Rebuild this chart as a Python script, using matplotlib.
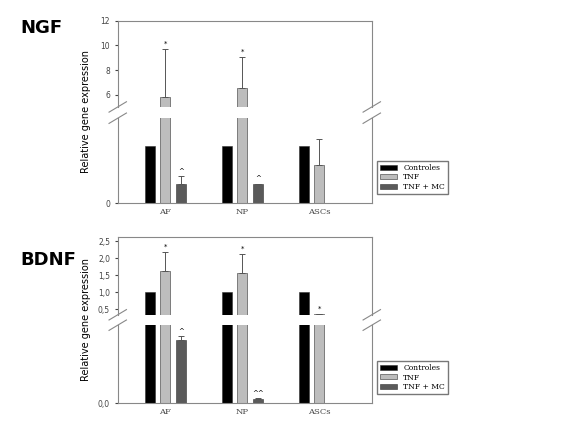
import matplotlib
matplotlib.use("Agg")
import matplotlib.pyplot as plt
import numpy as np

groups = ["AF", "NP", "ASCs"]
series = ["Controles", "TNF", "TNF + MC"]
colors = ["#000000", "#bdbdbd", "#5a5a5a"]

ngf_vals = [[1, 1, 1], [5.8, 6.5, 0.67], [0.33, 0.34, np.nan]]
ngf_err = [[0, 0, 0], [3.9, 2.55, 0.47], [0.14, 0.0, 0]]
ngf_marks = [["", "", ""], ["*", "*", ""], ["^", "^", ""]]

bdnf_vals = [[1, 1, 1], [1.62, 1.56, 0.36], [0.081, 0.005, np.nan]]
bdnf_err = [[0, 0, 0], [0.55, 0.57, 0.0], [0.005, 0.001, 0]]
bdnf_marks = [["", "", ""], ["*", "*", "*"], ["^", "^^", ""]]

fig = plt.figure(figsize=(5.8, 4.33), dpi=100)
x = np.arange(3)
offs = [-0.2, 0.0, 0.2]
W = 0.13
xl = (-0.62, 2.68)

def panel(rect_up, rect_lo, vals, errs, marks, up_lim, lo_lim, up_ticks, up_lbls, lo_ticks, lo_lbls, title, ty):
    au = fig.add_axes(rect_up)
    al = fig.add_axes(rect_lo)
    for ax, lim in ((au, up_lim), (al, lo_lim)):
        for i in range(3):
            v = np.array(vals[i], float)
            e = np.array(errs[i], float)
            ax.bar(x + offs[i], v, W, color=colors[i], edgecolor="#333333", linewidth=0.4,
                   yerr=[np.zeros(3), e], error_kw=dict(ecolor="#555555", elinewidth=0.7, capsize=2, capthick=0.7),
                   label=series[i])
        ax.set_xlim(*xl)
        ax.set_ylim(*lim)
        for s in ax.spines.values():
            s.set_color("#888888"); s.set_linewidth(0.8)
        ax.tick_params(labelsize=5.5, length=2, colors="#444444")
    # markers
    for i in range(3):
        for j in range(3):
            m = marks[i][j]
            if not m:
                continue
            top = vals[i][j] + errs[i][j]
            ax = au if top > up_lim[0] else al
            lim = up_lim if ax is au else lo_lim
            ax.text(x[j] + offs[i], top + 0.03 * (lim[1] - lim[0]), m, ha="center", va="bottom", fontsize=5)
    au.spines["bottom"].set_visible(False)
    al.spines["top"].set_visible(False)
    au.set_xticks([])
    au.set_yticks(up_ticks); au.set_yticklabels(up_lbls)
    al.set_yticks(lo_ticks); al.set_yticklabels(lo_lbls)
    al.set_xticks(x); al.set_xticklabels(groups, fontfamily="DejaVu Serif", fontsize=6)
    al.tick_params(axis="x", length=0)
    # break marks
    d = 0.015
    for xx in (0, 1):
        kw = dict(transform=fig.transFigure, color="#888888", lw=0.8, clip_on=False)
        xf = rect_up[0] + xx * rect_up[2]
        fig.add_artist(plt.Line2D([xf - d, xf + d], [rect_up[1] - 0.012, rect_up[1] + 0.012], **kw))
        fig.add_artist(plt.Line2D([xf - d, xf + d], [rect_lo[1] + rect_lo[3] - 0.012, rect_lo[1] + rect_lo[3] + 0.012], **kw))
    fig.text(0.148, (rect_lo[1] + rect_up[1] + rect_up[3]) / 2, "Relative gene expression", rotation=90,
             ha="center", va="center", fontsize=7)
    fig.text(0.035, ty, title, fontsize=13, fontweight="bold", ha="left", va="center")
    h, l = al.get_legend_handles_labels()
    fig.legend(h, l, loc="lower left", bbox_to_anchor=(rect_lo[0] + rect_lo[2] + 0.003, rect_lo[1] + 0.012),
               fontsize=5.5, prop={"family": "DejaVu Serif", "size": 5.5}, frameon=True, fancybox=False,
               edgecolor="#555555", handlelength=2.2, handleheight=0.6, borderpad=0.4, labelspacing=0.2)

panel([0.203, 0.753, 0.438, 0.199], [0.203, 0.531, 0.438, 0.196], ngf_vals, ngf_err, ngf_marks,
      (5.0, 12.0), (0, 1.5), [6, 8, 10, 12], ["6", "8", "10", "12"], [0], ["0"], "NGF", 0.935)
panel([0.203, 0.273, 0.438, 0.180], [0.203, 0.069, 0.438, 0.180], bdnf_vals, bdnf_err, bdnf_marks,
      (0.33, 2.63), (0, 0.1), [0.5, 1.0, 1.5, 2.0, 2.5], ["0,5", "1,0", "1,5", "2,0", "2,5"], [0], ["0,0"], "BDNF", 0.40)

fig.savefig("out.png", dpi=100)
